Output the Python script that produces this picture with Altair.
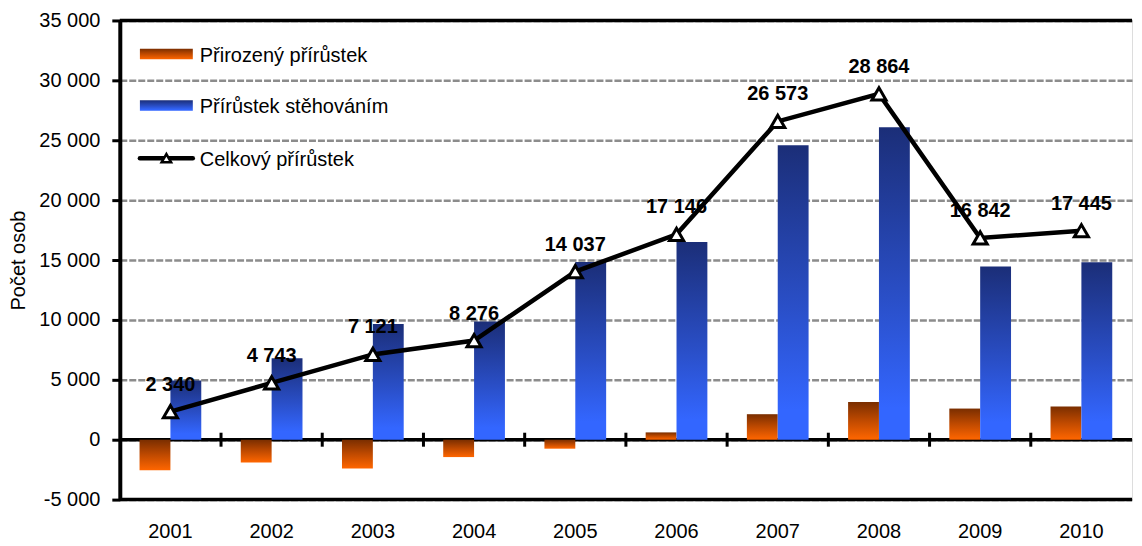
import altair as alt
import pandas as pd

FONT = "Liberation Sans"

# ---- data ----
years = ["2001", "2002", "2003", "2004", "2005", "2006", "2007", "2008", "2009", "2010"]
natural = [-2550, -1900, -2400, -1450, -750, 610, 2130, 3140, 2600, 2780]
migration = [4950, 6800, 9660, 9860, 14830, 16510, 24580, 26080, 14450, 14810]
total = [2340, 4743, 7121, 8276, 14037, 17146, 26573, 28864, 16842, 17445]
series_names = ["Přirozený přírůstek", "Přírůstek stěhováním", "Celkový přírůstek"]
y_ticks = [-5000, 0, 5000, 10000, 15000, 20000, 25000, 30000, 35000]
frame_values = [-5000, 0, 35000]
boundaries = [1, 2, 3, 4, 5, 6, 7, 8, 9]

# legend layout (in the chart's own units)
legend_y = [32200, 27900, 23500]
legend_sym_x = [0.46, 0.46, 0.46]
legend_txt_x = [0.79, 0.79, 0.79]

W, H = 1014, 480

bars_df = pd.DataFrame({
    "year": years * 2,
    "series": [series_names[0]] * len(years) + [series_names[1]] * len(years),
    "value": natural + migration,
})
line_df = pd.DataFrame({"year": years, "total": total})
frame_df = pd.DataFrame({"v": frame_values})
bound_df = pd.DataFrame({"b": boundaries})
legend_df = pd.DataFrame({"name": series_names, "y": legend_y,
                          "sx": legend_sym_x, "tx": legend_txt_x})

grad_orange = alt.LinearGradient(
    gradient="linear", x1=0, x2=0, y1=0, y2=1,
    stops=[alt.GradientStop(color="#7a2e00", offset=0),
           alt.GradientStop(color="#c04a00", offset=0.5),
           alt.GradientStop(color="#ff6600", offset=1)])
grad_blue = alt.LinearGradient(
    gradient="linear", x1=0, x2=0, y1=0, y2=1,
    stops=[alt.GradientStop(color="#1b2e78", offset=0),
           alt.GradientStop(color="#2a4fc8", offset=0.55),
           alt.GradientStop(color="#3366ff", offset=0.9),
           alt.GradientStop(color="#3366ff", offset=1)])

y_scale = alt.Scale(domain=[-5000, 35000], nice=False)
y_axis = alt.Axis(
    title="Počet osob", values=y_ticks,
    labelExpr="replace(replace(format(datum.value, ','), ',', ' '), '\u2212', '-')",
    grid=True, gridColor="#8c8c8c", gridDash=[7, 2], gridWidth=2.5,
    domainColor="black", domainWidth=4, tickColor="black", tickWidth=3, tickSize=8,
    labelPadding=12, labelFontSize=20, labelColor="black", labelFont=FONT,
    titleFontSize=20, titleFontWeight="normal", titleColor="black", titleFont=FONT,
    titlePadding=10,
)
x_enc = alt.X(
    "year:N", scale=alt.Scale(paddingInner=0, paddingOuter=0),
    axis=alt.Axis(title=None, labelFontSize=20, labelColor="black", labelFont=FONT,
                  ticks=False, domain=False, labelPadding=22, labelAngle=0),
)
xoff = alt.XOffset("series:N", scale=alt.Scale(domain=series_names[:2],
                                              paddingOuter=0.64, paddingInner=0))


def Y(field):
    return alt.Y(field, scale=y_scale, axis=y_axis)


frame = alt.Chart(frame_df).mark_rule(color="black", strokeWidth=3.5).encode(y=Y("v:Q"))

bars_o = alt.Chart(bars_df).transform_filter(
    alt.datum.series == series_names[0]
).mark_bar(fill=grad_orange).encode(
    x=x_enc, xOffset=xoff, y=Y("value:Q"), y2=alt.datum(0))

bars_b = alt.Chart(bars_df).transform_filter(
    alt.datum.series == series_names[1]
).mark_bar(fill=grad_blue).encode(
    x=x_enc, xOffset=xoff, y=Y("value:Q"), y2=alt.datum(0))

line = alt.Chart(line_df).mark_line(color="black", strokeWidth=4.5).encode(
    x=x_enc, y=Y("total:Q"))

pts = alt.Chart(line_df).mark_point(
    shape="triangle-up", filled=True, fill="white", stroke="black",
    strokeWidth=3, size=200, opacity=1
).encode(x=x_enc, y=Y("total:Q"))

labels = alt.Chart(line_df).transform_calculate(
    label="replace(format(datum.total, ','), ',', ' ')"
).mark_text(fontSize=20, fontWeight="bold", font=FONT, dy=-27, color="black").encode(
    x=x_enc, y=Y("total:Q"), text="label:N")

inner = alt.layer(frame, bars_o, bars_b, line, pts, labels)

qscale = alt.Scale(domain=[0, 10], nice=False, zero=True)

ticks = alt.Chart(bound_df).mark_tick(
    orient="vertical", size=14, thickness=3, color="black", opacity=1
).encode(x=alt.X("b:Q", scale=qscale, axis=None),
         y=alt.Y(datum=0, scale=y_scale, axis=y_axis))

leg_o = alt.Chart(legend_df).transform_filter(alt.datum.name == series_names[0]).mark_point(
    shape="M-1,-0.2H1V0.2H-1Z", size=2809, filled=True, fill=grad_orange,
    strokeWidth=0, opacity=1
).encode(x=alt.X("sx:Q", scale=qscale, axis=None), y=Y("y:Q"))

leg_b = alt.Chart(legend_df).transform_filter(alt.datum.name == series_names[1]).mark_point(
    shape="M-1,-0.2H1V0.2H-1Z", size=2809, filled=True, fill=grad_blue,
    strokeWidth=0, opacity=1
).encode(x=alt.X("sx:Q", scale=qscale, axis=None), y=Y("y:Q"))

leg_l = alt.Chart(legend_df).transform_filter(alt.datum.name == series_names[2]).mark_point(
    shape="M-1,0H1", size=2809, filled=False, stroke="black", strokeWidth=4.5,
    strokeCap="round", opacity=1
).encode(x=alt.X("sx:Q", scale=qscale, axis=None), y=Y("y:Q"))

leg_t = alt.Chart(legend_df).transform_filter(alt.datum.name == series_names[2]).mark_point(
    shape="triangle-up", filled=True, fill="white", stroke="black", strokeWidth=2.5,
    size=90, opacity=1
).encode(x=alt.X("sx:Q", scale=qscale, axis=None), y=Y("y:Q"))

leg_txt = alt.Chart(legend_df).mark_text(
    align="left", baseline="middle", fontSize=20, font=FONT, color="black", dy=2
).encode(x=alt.X("tx:Q", scale=qscale, axis=None), y=Y("y:Q"), text="name:N")

outer = alt.layer(ticks, leg_o, leg_b, leg_l, leg_t, leg_txt)

chart = alt.layer(inner, outer).resolve_scale(x="independent").properties(
    width=W, height=H, padding={"left": 0, "top": 2, "right": 0, "bottom": 0}
).configure_view(stroke=None).configure(font=FONT)

chart.save("out.html", embed_options={"renderer": "svg", "actions": False})
